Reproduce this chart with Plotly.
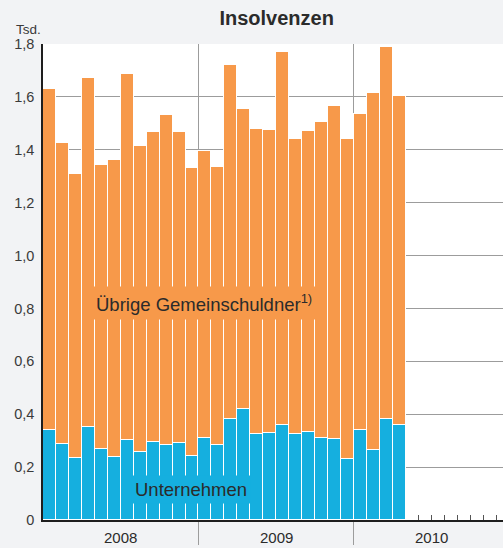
import plotly.graph_objects as go

# Monthly values, Jan 2008 - Apr 2010 (thousands)
months = ["2008-01", "2008-02", "2008-03", "2008-04", "2008-05", "2008-06",
          "2008-07", "2008-08", "2008-09", "2008-10", "2008-11", "2008-12",
          "2009-01", "2009-02", "2009-03", "2009-04", "2009-05", "2009-06",
          "2009-07", "2009-08", "2009-09", "2009-10", "2009-11", "2009-12",
          "2010-01", "2010-02", "2010-03", "2010-04"]
unternehmen = [0.339, 0.286, 0.233, 0.351, 0.267, 0.238, 0.301, 0.256, 0.294, 0.282, 0.290, 0.242,
               0.310, 0.284, 0.381, 0.419, 0.324, 0.330, 0.361, 0.326, 0.334, 0.311, 0.305, 0.230,
               0.339, 0.264, 0.383, 0.358]
uebrige = [1.290, 1.140, 1.076, 1.319, 1.076, 1.125, 1.385, 1.159, 1.173, 1.249, 1.177, 1.089,
           1.084, 1.050, 1.341, 1.135, 1.154, 1.146, 1.408, 1.116, 1.136, 1.193, 1.261, 1.211,
           1.197, 1.350, 1.406, 1.244]
years = ["2008", "2009", "2010"]
y_ticks = [0, 0.2, 0.4, 0.6, 0.8, 1.0, 1.2, 1.4, 1.6, 1.8]
y_ticktext = ["0", "0,2", "0,4", "0,6", "0,8", "1,0", "1,2", "1,4", "1,6", "1,8"]

ORANGE = "#F7994A"
BLUE = "#15AFDF"
BG = "#F2F3F5"
GRID = "#9C9C9C"
TXT = "#2B2B2B"
FONT = "Liberation Sans, Arial, sans-serif"

x = list(range(len(months)))

fig = go.Figure()
fig.add_trace(go.Bar(x=x, y=unternehmen, name="Unternehmen",
                     marker=dict(color=BLUE, line=dict(color="white", width=1))))
fig.add_trace(go.Bar(x=x, y=uebrige, name="Übrige Gemeinschuldner",
                     marker=dict(color=ORANGE, line=dict(color="white", width=1))))

year_bounds = [11.5, 23.5]
minor_vals = [28.5, 29.5, 30.5, 31.5, 32.5, 33.5, 34.5]

fig.update_layout(
    width=503, height=548,
    margin=dict(l=43, r=0, t=44, b=28, autoexpand=False),
    paper_bgcolor=BG, plot_bgcolor="white",
    barmode="stack", bargap=0,
    showlegend=False,
    font=dict(family=FONT, color=TXT),
    title=dict(text="<b>Insolvenzen</b>", x=0.508, xref="paper", xanchor="center",
               y=1 - 18 / 548, yref="container", yanchor="middle",
               font=dict(size=20, family=FONT, color=TXT)),
    xaxis=dict(range=[-0.5, 35.0], tickmode="array", tickvals=year_bounds,
               showticklabels=False, ticks="outside", ticklen=23, tickcolor=GRID, tickwidth=1,
               showgrid=True, gridcolor=GRID, gridwidth=1,
               showline=True, linecolor="#1E1E1E", linewidth=2,
               zeroline=False, fixedrange=True, automargin=False,
               minor=dict(tickmode="array", tickvals=minor_vals, ticks="inside",
                          ticklen=5, tickcolor="#555555", tickwidth=1, showgrid=False)),
    yaxis=dict(range=[0, 1.8], tickmode="array", tickvals=y_ticks, ticktext=y_ticktext,
               ticks="", ticklabelstandoff=4, automargin=False,
               tickfont=dict(size=14.5, color="#3A3A3A"),
               showgrid=True, gridcolor=GRID, gridwidth=1,
               showline=True, linecolor="#1E1E1E", linewidth=1.5,
               zeroline=False, fixedrange=True),
)

# Year labels
for i, yr in enumerate(years):
    fig.add_annotation(x=5.5 + 12 * i, y=0, xref="x", yref="paper",
                       yshift=-17, text=yr, showarrow=False,
                       font=dict(size=15, color=TXT), xanchor="center", yanchor="middle")

# Unit label
fig.add_annotation(x=(28 - 43) / 460, y=1 + (44 - 29) / 476, xref="paper", yref="paper",
                   text="Tsd.", showarrow=False, xanchor="center", yanchor="middle",
                   font=dict(size=13.5, color="#3A3A3A"))

# Series labels
fig.add_annotation(x=11.9, y=0.82, xref="x", yref="y",
                   text="Übrige Gemeinschuldner<sup>1)</sup>", showarrow=False,
                   bgcolor=ORANGE, borderpad=4, xanchor="center", yanchor="middle",
                   font=dict(size=18.5, color=TXT))
fig.add_annotation(x=10.9, y=0.117, xref="x", yref="y",
                   text="Unternehmen", showarrow=False,
                   bgcolor=BLUE, borderpad=3, xanchor="center", yanchor="middle",
                   font=dict(size=18.5, color=TXT))

fig.write_html("out.html", config={"displayModeBar": False},
               post_script="document.body.style.margin='0';document.body.style.overflow='hidden';")
